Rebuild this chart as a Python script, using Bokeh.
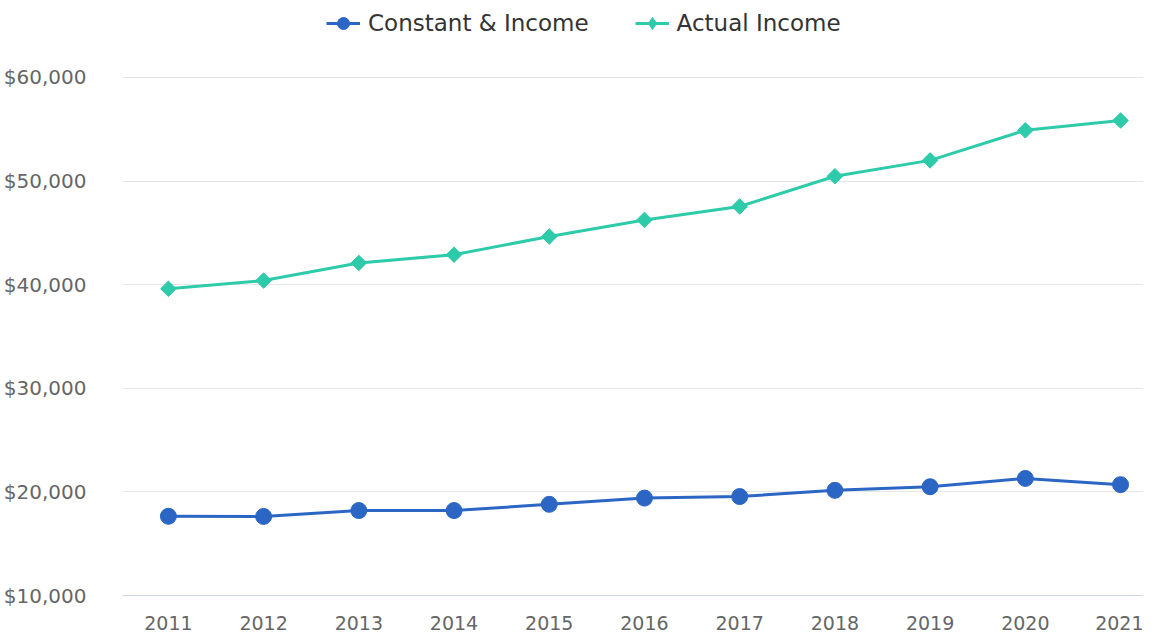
import math
from bokeh.plotting import figure
from bokeh.models import Range1d, FixedTicker, NumeralTickFormatter, Legend, LegendItem
from bokeh.embed import file_html
from bokeh.resources import INLINE

years = [2011, 2012, 2013, 2014, 2015, 2016, 2017, 2018, 2019, 2020, 2021]
constant_income = [17650, 17630, 18200, 18200, 18800, 19400, 19550, 20150, 20500, 21300, 20700]
actual_income = [39600, 40400, 42100, 42900, 44650, 46250, 47550, 50470, 52000, 54900, 55850]
y_ticks = [10000, 20000, 30000, 40000, 50000, 60000]
series_names = ["Constant & Income", "Actual Income"]

BLUE = "#2b66c5"
TEAL = "#2dcba9"
FONT = "DejaVu Sans"

p = figure(width=1143, height=633, output_backend="svg", toolbar_location=None,
           x_range=Range1d(2010.518, 2021.241), y_range=Range1d(10000, 67432),
           min_border_left=120, min_border_right=0, min_border_top=0, min_border_bottom=38)
p.outline_line_color = None
p.background_fill_color = "white"

l1 = p.line(years, constant_income, line_color=BLUE, line_width=3)
s1 = p.scatter(years, constant_income, marker="circle", size=16, fill_color=BLUE, line_color=BLUE)
l2 = p.line(years, actual_income, line_color=TEAL, line_width=3)
# narrow diamond used as legend icon; fully hidden beneath the rotated squares
s2_icon = p.scatter(years, actual_income, marker="diamond", size=12, fill_color=TEAL, line_color=TEAL)
s2 = p.scatter(years, actual_income, marker="square", angle=math.pi / 4, size=11,
               fill_color=TEAL, line_color=TEAL)

# axes
p.xaxis.ticker = FixedTicker(ticks=years)
p.xaxis.axis_line_color = "#ccd6eb"
p.xaxis.axis_line_width = 1
p.xaxis.major_tick_line_color = None
p.xaxis.minor_tick_line_color = None
p.xaxis.major_label_standoff = 14
p.xaxis.major_label_text_font = FONT
p.xaxis.major_label_text_font_size = "19px"
p.xaxis.major_label_text_color = "#666666"

p.yaxis.ticker = FixedTicker(ticks=y_ticks)
p.yaxis.formatter = NumeralTickFormatter(format="$0,0")
p.yaxis.axis_line_color = None
p.yaxis.major_tick_line_color = None
p.yaxis.minor_tick_line_color = None
p.yaxis.major_label_standoff = 30
p.yaxis.major_label_text_font = FONT
p.yaxis.major_label_text_font_size = "20px"
p.yaxis.major_label_text_color = "#666666"

p.xgrid.grid_line_color = None
p.ygrid.ticker = FixedTicker(ticks=y_ticks)
p.ygrid.grid_line_color = "#e6e6e6"
p.ygrid.grid_line_width = 1

legend = Legend(items=[LegendItem(label=series_names[0], renderers=[l1, s1]),
                       LegendItem(label=series_names[1], renderers=[l2, s2_icon])],
                orientation="horizontal", location=(204, 557),
                padding=0, margin=0, spacing=46, label_standoff=8,
                glyph_width=34, glyph_height=30,
                border_line_color=None, background_fill_alpha=0,
                label_text_font=FONT, label_text_font_size="23px",
                label_text_color="#333333")
p.add_layout(legend, "center")

open("out.html", "w").write(file_html(p, INLINE))
